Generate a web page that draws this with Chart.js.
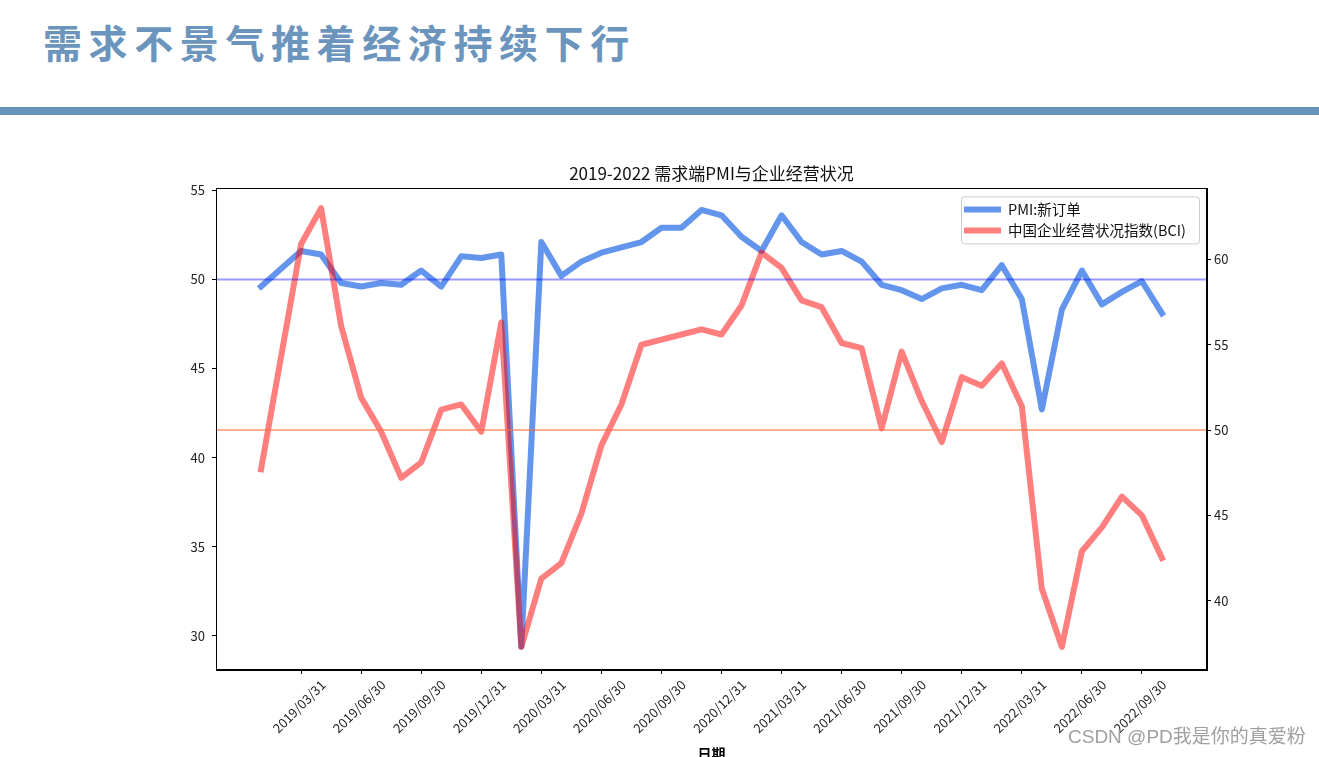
<!DOCTYPE html>
<html><head><meta charset="utf-8">
<script src="https://cdn.jsdelivr.net/npm/chart.js@4.4.1/dist/chart.umd.min.js"></script>
<style>
html,body{margin:0;padding:0;background:#fff;overflow:hidden;width:1319px;height:757px;}
#header{position:absolute;left:43px;top:22px;font-family:"Noto Sans CJK SC";font-weight:bold;font-size:39px;letter-spacing:6.6px;color:#6b95bd;white-space:nowrap;line-height:1;}
#bar{position:absolute;left:0;top:107px;width:1319px;height:8px;background:#6893bb;}
#wrap{position:absolute;left:0;top:0;width:1319px;height:757px;}
#wm{position:absolute;left:1068px;top:727px;font-family:"Liberation Sans","Noto Sans CJK SC";font-size:19px;color:#a0a0a0;white-space:nowrap;line-height:1;}
</style></head><body>
<div id="header">需求不景气推着经济持续下行</div>
<div id="bar"></div>
<div id="wrap"><canvas id="c" width="1319" height="757"></canvas></div>
<div id="wm">CSDN @PD我是你的真爱粉</div>
<script>
const months = [
 '2019/01/31','2019/02/28','2019/03/31','2019/04/30','2019/05/31','2019/06/30','2019/07/31','2019/08/31','2019/09/30','2019/10/31','2019/11/30','2019/12/31',
 '2020/01/31','2020/02/29','2020/03/31','2020/04/30','2020/05/31','2020/06/30','2020/07/31','2020/08/31','2020/09/30','2020/10/31','2020/11/30','2020/12/31',
 '2021/01/31','2021/02/28','2021/03/31','2021/04/30','2021/05/31','2021/06/30','2021/07/31','2021/08/31','2021/09/30','2021/10/31','2021/11/30','2021/12/31',
 '2022/01/31','2022/02/28','2022/03/31','2022/04/30','2022/05/31','2022/06/30','2022/07/31','2022/08/31','2022/09/30','2022/10/31'
];
const pmiNewOrders = [
 49.6, 50.6, 51.6, 51.4, 49.8, 49.6, 49.8, 49.7, 50.5, 49.6, 51.3, 51.2,
 51.4, 29.4, 52.1, 50.2, 51.0, 51.5, 51.8, 52.1, 52.9, 52.9, 53.9, 53.6,
 52.4, 51.6, 53.6, 52.1, 51.4, 51.6, 51.0, 49.7, 49.4, 48.9, 49.5, 49.7,
 49.4, 50.8, 48.9, 42.7, 48.3, 50.5, 48.6, 49.3, 49.9, 48.1
];
const bci = [
 47.7, 54.3, 60.9, 63.0, 56.1, 51.9, 49.9, 47.2, 48.1, 51.2, 51.5, 49.9,
 56.3, 37.3, 41.3, 42.2, 45.1, 49.1, 51.5, 55.0, 55.3, 55.6, 55.9, 55.6,
 57.3, 60.4, 59.5, 57.6, 57.2, 55.1, 54.8, 50.1, 54.6, 51.7, 49.3, 53.1,
 52.6, 53.9, 51.4, 40.7, 37.3, 42.9, 44.3, 46.1, 45.0, 42.5
];
const xTickLabels = ['2019/03/31','2019/06/30','2019/09/30','2019/12/31','2020/03/31','2020/06/30','2020/09/30','2020/12/31','2021/03/31','2021/06/30','2021/09/30','2021/12/31','2022/03/31','2022/06/30','2022/09/30'];
const leftTicks = [30, 35, 40, 45, 50, 55];
const rightTicks = [40, 45, 50, 55, 60];
const pmiRef = 50;
const bciRef = 50;
const seriesNames = ['PMI:新订单', '中国企业经营状况指数(BCI)'];

const X_MIN = -2.25, X_MAX = 47.25;
const pmiColor = 'rgb(100,149,237)';
const bciColor = 'rgba(255,0,0,0.5)';
const tickFont = {family: '"Noto Sans CJK SC"', size: 13};
const pts = arr => arr.map((v, i) => ({x: i, y: v}));

const frame = {
  id: 'frame',
  afterDraw(chart) {
    const {ctx, chartArea: a} = chart;
    ctx.save();
    ctx.strokeStyle = '#000';
    ctx.lineWidth = 1;
    ctx.strokeRect(Math.round(a.left) + 0.5, Math.round(a.top) + 0.5, Math.round(a.right - a.left) - 1, Math.round(a.bottom - a.top) - 1);
    ctx.restore();
  }
};
const legendBox = {
  id: 'legendBox',
  afterDraw(chart) {
    const {ctx, chartArea: a} = chart;
    const w = 238, h = 47;
    const x = a.right - 246, y = a.top + 8;
    ctx.save();
    ctx.fillStyle = 'rgba(255,255,255,0.85)';
    ctx.strokeStyle = '#cccccc';
    ctx.lineWidth = 1;
    ctx.beginPath();
    ctx.roundRect(x + 0.5, y + 0.5, w, h, 3);
    ctx.fill(); ctx.stroke();
    chart.data.datasets.slice(0, 2).forEach((ds, i) => {
      const ly = y + 13 + i * 21;
      ctx.strokeStyle = ds.borderColor;
      ctx.lineWidth = 6;
      ctx.lineCap = 'butt';
      ctx.beginPath(); ctx.moveTo(x + 3, ly); ctx.lineTo(x + 40, ly); ctx.stroke();
      ctx.fillStyle = '#111';
      ctx.font = '14.5px "Noto Sans CJK SC"';
      ctx.textBaseline = 'middle';
      ctx.fillText(ds.label, x + 47, ly);
    });
    ctx.restore();
  }
};

new Chart(document.getElementById('c'), {
  type: 'line',
  data: {
    datasets: [
      {label: seriesNames[0], data: pts(pmiNewOrders), yAxisID: 'y', borderColor: pmiColor, backgroundColor: pmiColor,
       borderWidth: 6, pointRadius: 0, order: 4, borderJoinStyle: 'round', borderCapStyle: 'square', tension: 0},
      {label: seriesNames[1], data: pts(bci), yAxisID: 'y1', borderColor: bciColor, backgroundColor: bciColor,
       borderWidth: 6, pointRadius: 0, order: 3, borderJoinStyle: 'round', borderCapStyle: 'square', tension: 0},
      {label: 'pmiRef', data: [{x: X_MIN, y: pmiRef}, {x: X_MAX, y: pmiRef}], yAxisID: 'y', borderColor: 'rgba(0,0,255,0.4)',
       borderWidth: 2, pointRadius: 0, order: 1},
      {label: 'bciRef', data: [{x: X_MIN, y: bciRef}, {x: X_MAX, y: bciRef}], yAxisID: 'y1', borderColor: 'rgba(255,110,60,0.55)',
       borderWidth: 2, pointRadius: 0, order: 2}
    ]
  },
  options: {
    responsive: false,
    animation: false,
    layout: {padding: 0},
    plugins: {
      legend: {display: false},
      tooltip: {enabled: false},
      title: {display: true, text: '2019-2022 需求端PMI与企业经营状况', fullSize: false,
        font: {family: '"Noto Sans CJK SC"', size: 17, weight: 'normal'}, color: '#111', padding: {top: 163, bottom: 5}}
    },
    scales: {
      x: {
        type: 'linear', position: 'bottom', min: X_MIN, max: X_MAX,
        afterBuildTicks: s => { s.ticks = xTickLabels.map(l => ({value: months.indexOf(l)})); },
        afterFit: s => { s.height = 87; },
        ticks: {autoSkip: false, maxRotation: 45, minRotation: 45, callback: v => months[v], font: tickFont, color: '#222', labelOffset: 22, padding: 3},
        grid: {display: true, drawOnChartArea: false, drawTicks: true, tickLength: 4, color: '#000'},
        border: {display: true, color: '#000', width: 1},
        title: {display: true, text: '日期', font: {family: '"Noto Sans CJK SC"', size: 14, weight: 'bold'}, color: '#000', padding: {top: 0, bottom: -5}}
      },
      y: {
        type: 'linear', position: 'left', min: 28.08, max: 55.11,
        afterBuildTicks: s => { s.ticks = leftTicks.map(v => ({value: v})); },
        afterFit: s => { s.width = 216; },
        ticks: {font: tickFont, color: '#222', padding: 7},
        grid: {display: true, drawOnChartArea: false, drawTicks: true, tickLength: 4, color: '#000'},
        border: {display: true, color: '#000', width: 1}
      },
      y1: {
        type: 'linear', position: 'right', min: 35.94, max: 64.16,
        afterBuildTicks: s => { s.ticks = rightTicks.map(v => ({value: v})); },
        afterFit: s => { s.width = 112; },
        ticks: {font: tickFont, color: '#222', padding: 3},
        grid: {display: true, drawOnChartArea: false, drawTicks: true, tickLength: 4, color: '#000'},
        border: {display: true, color: '#000', width: 1}
      }
    }
  },
  plugins: [frame, legendBox]
});
</script>
</body></html>
